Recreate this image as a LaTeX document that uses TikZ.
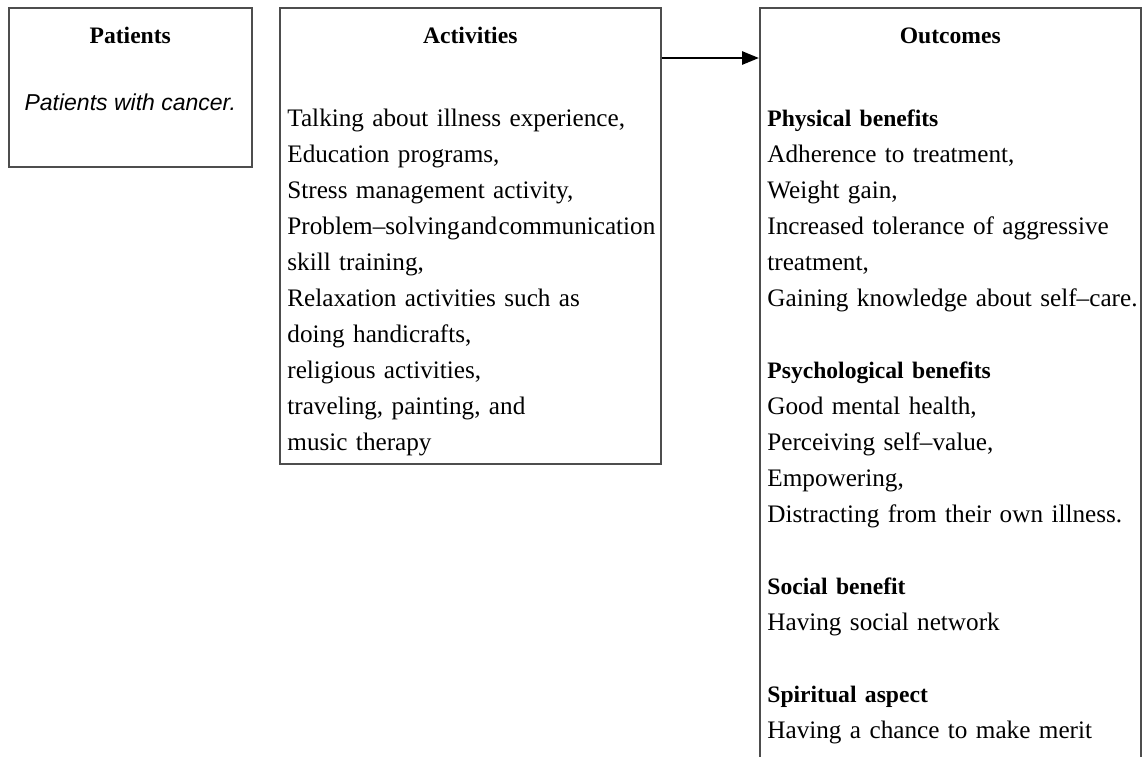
\documentclass[tikz,border=0pt]{standalone}
\usepackage{fontspec}
\setmainfont{Liberation Serif}
\newfontfamily\casefont{Liberation Sans}
\usepackage{tikz}
\usetikzlibrary{arrows.meta, positioning}
\definecolor{frame-grey}{HTML}{4D4D4D}
\newcommand{\hd}[1]{{\fontsize{11.8}{18}\selectfont\bfseries #1}}
\newcommand{\fillline}[1]{\makebox[\linewidth][s]{#1}}

\begin{document}
\begin{tikzpicture}[x=0.5pt, y=-0.5pt,
    panel/.style={draw=frame-grey, line width=0.75pt, anchor=north west, inner sep=0pt},
    heading/.style={anchor=base, font=\fontsize{11.8}{18}\selectfont\bfseries},
    body/.style={anchor=base west, inner sep=0pt, align=left, text width=#1,
                 font=\fontsize{12.6}{18}\selectfont},
    link/.style={-{Triangle[length=8.5pt, width=6.5pt]}, line width=1.4pt}]
  \useasboundingbox (0,0) rectangle (1142,756);
  \clip (0,0) rectangle (1142,756);

  \node[panel, minimum width=121.5pt, minimum height=79.5pt] (patients) at (8,7) {};
  \node[panel, minimum width=190.5pt, minimum height=228pt] (activities) at (279,7) {};
  \node[panel, minimum width=190.5pt, minimum height=400pt] (outcomes) at (759,7) {};

  \node[heading] (patients-title) at ([yshift=-18pt]patients.north) {Patients};
  \node[heading] (activities-title) at ([yshift=-18pt]activities.north) {Activities};
  \node[heading] (outcomes-title) at ([yshift=-18pt]outcomes.north) {Outcomes};

  \node[anchor=base, font=\casefont\itshape\fontsize{11.5}{18}\selectfont] (patients-text)
    at ([yshift=-51.5pt]patients.north) {Patients with cancer.};

  \node[body=184pt] (activities-list) at ([xshift=4pt, yshift=-59.5pt]activities.north west) {%
    Talking about illness experience,\\
    Education programs,\\
    Stress management activity,\\
    \fillline{Problem--solving\hfill and\hfill communication}\\
    skill training,\\
    Relaxation activities such as\\
    doing handicrafts,\\
    religious activities,\\
    traveling, painting, and\\
    music therapy};

  \node[body=185pt] (outcomes-list) at ([xshift=4pt, yshift=-59.5pt]outcomes.north west) {%
    \hd{Physical benefits}\\
    Adherence to treatment,\\
    Weight gain,\\
    \fillline{Increased tolerance of aggressive}\\
    treatment,\\
    \mbox{Gaining knowledge about self--care.}\\[18pt]
    \hd{Psychological benefits}\\
    Good mental health,\\
    Perceiving self--value,\\
    Empowering,\\
    Distracting from their own illness.\\[18pt]
    \hd{Social benefit}\\
    Having social network\\[18pt]
    \hd{Spiritual aspect}\\
    Having a chance to make merit};

  \draw[link] ([yshift=-25.5pt]activities.north east) -- ([yshift=-25.5pt]outcomes.north west);
\end{tikzpicture}
\end{document}
